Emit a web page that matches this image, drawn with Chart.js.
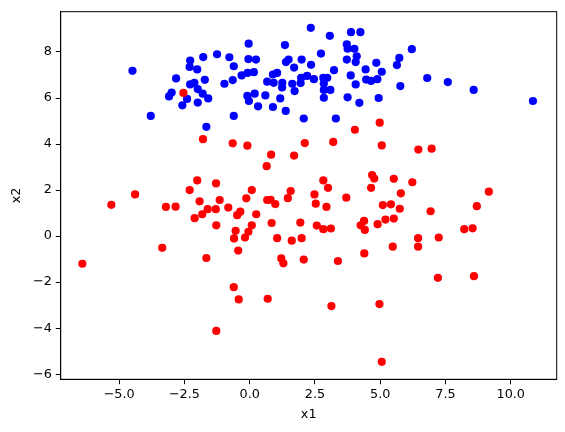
<!DOCTYPE html>
<html>
<head>
<meta charset="utf-8">
<script src="https://cdn.jsdelivr.net/npm/chart.js@4.4.1/dist/chart.umd.min.js"></script>
<style>
    html, body { margin: 0; padding: 0; background: #fff; }
    #wrap { width: 565px; height: 432px; }
</style>
</head>
<body>
<div id="wrap"><canvas id="scatterChart"></canvas></div>
<script>
// cluster 0 (blue)
const blueX = [-4.49, -3.79, -2.82, -2.28, -1.78, -1.25, -2.30, -2.01, -1.72, -0.97,
    -2.28, -2.12, -1.99, -1.80, -1.59, -2.99, -3.09, -2.40, -2.58, -1.99,
    -1.66, -0.78, -0.61, -0.65, -0.31, -0.04, -0.05, 0.24, -0.08, 0.16,
    -0.09, 0.19, -0.03, 0.32, 0.60, -0.61, 0.67, 0.92, 1.05, 0.89,
    1.35, 1.39, 1.49, 1.70, 1.99, 2.34, 2.35, 2.73, 3.07, 3.23,
    1.25, 1.24, 1.17, 0.89, 1.38, 1.63, 1.72, 1.95, 1.97, 2.20,
    2.46, 2.07, 2.82, 2.97, 2.84, 2.84, 3.09, 2.84, 3.30, 3.72,
    3.75, 3.88, 4.24, 4.01, 3.72, 4.10, 4.06, 3.87, 4.06, 4.44,
    4.85, 4.46, 4.65, 4.89, 5.06, 3.75, 4.20, 4.94, 5.73, 5.64,
    6.21, 5.77, 6.80, 7.59, 8.58, 10.85];
const blueY = [7.18, 5.22, 6.85, 7.63, 7.78, 7.90, 7.35, 7.24, 6.79, 6.62,
    6.59, 6.66, 6.39, 6.19, 5.98, 6.24, 6.07, 5.96, 5.68, 5.80,
    4.75, 7.77, 7.38, 6.78, 6.98, 8.36, 7.69, 7.67, 7.09, 7.12,
    6.09, 6.19, 5.87, 5.64, 6.11, 5.22, 6.71, 6.66, 7.09, 7.02,
    8.30, 7.56, 7.67, 7.32, 7.67, 9.05, 7.44, 7.93, 8.70, 7.21,
    6.66, 6.46, 5.98, 5.61, 5.44, 6.62, 6.30, 6.65, 6.88, 6.96,
    6.82, 5.11, 6.88, 6.88, 6.63, 6.35, 6.35, 6.01, 5.11, 8.33,
    8.14, 8.86, 8.86, 8.14, 7.67, 7.81, 7.56, 6.98, 6.59, 7.24,
    7.53, 6.80, 6.74, 6.82, 7.14, 6.03, 5.79, 6.00, 7.74, 7.43,
    8.12, 6.52, 6.87, 6.69, 6.35, 5.87];

// cluster 1 (red)
const redX = [-2.54, -1.79, -2.01, -1.29, -2.30, -4.39, -5.30, -3.21, -2.84, -1.92,
    -1.15, -0.82, -1.61, -1.30, -1.82, -2.11, -1.28, -3.35, 4.03, 4.98,
    -0.65, -0.09, 2.11, 3.20, 5.06, 0.82, 1.70, 0.65, 2.82, 3.00,
    4.69, 4.77, 4.65, 0.08, 1.57, -0.13, 0.67, 0.80, 0.98, 1.46,
    2.48, 2.53, 2.94, 3.70, 5.10, -0.36, -0.48, 0.25, 0.08, -0.54,
    -0.05, -0.60, -0.18, 0.84, 1.94, 2.57, 2.82, 3.11, 1.05, 1.61,
    1.99, -0.44, 4.25, 4.38, 4.41, 4.90, 4.39, 6.46, 6.97, 5.52,
    6.23, 5.79, 9.16, 5.41, 5.75, 6.93, 8.70, 5.20, 5.52, 8.22,
    8.54, 6.45, 7.24, 5.48, 6.45, -6.41, -1.66, -1.28, 1.21, 1.29,
    2.07, 3.38, -0.61, -0.42, 0.69, 3.13, 4.97, 5.06, 7.21, 8.59];
const redY = [6.22, 4.21, 2.42, 2.29, 2.00, 1.81, 1.36, 1.27, 1.28, 1.51,
    1.57, 1.24, 1.17, 1.17, 0.95, 0.78, 0.47, -0.51, 4.62, 4.93,
    4.03, 3.93, 4.04, 4.09, 3.94, 3.54, 3.50, 3.04, 2.42, 2.10,
    2.65, 2.50, 2.10, 2.00, 1.96, 1.64, 1.57, 1.58, 1.39, 1.65,
    1.81, 1.41, 1.27, 1.67, 1.35, 1.06, 0.91, 0.95, 0.47, 0.23,
    0.19, -0.10, -0.06, 0.57, 0.59, 0.46, 0.30, 0.33, -0.09, -0.20,
    -0.09, -0.63, 0.47, 0.66, 0.27, 0.52, -0.75, 3.76, 3.80, 2.49,
    2.34, 1.86, 1.93, 1.38, 1.19, 1.08, 1.30, 0.72, 0.76, 0.30,
    0.34, -0.09, -0.06, -0.46, -0.46, -1.20, -0.95, -4.12, -0.97, -1.18,
    -1.02, -1.08, -2.22, -2.75, -2.72, -3.04, -2.95, -5.46, -1.81, -1.74];

const xTicks = [-5, -2.5, 0, 2.5, 5, 7.5, 10];
const yTicks = [-6, -4, -2, 0, 2, 4, 6, 8];

function toPoints(xs, ys) {
    return xs.map((x, i) => ({ x: x, y: ys[i] }));
}

function minusSign(v, digits) {
    const s = Math.abs(v).toFixed(digits);
    return v < 0 ? "\u2212" + s : s;
}

// black box round the plot area, like matplotlib spines
const frame = {
    id: "frame",
    afterDraw(chart) {
        const a = chart.chartArea;
        const ctx = chart.ctx;
        ctx.save();
        ctx.strokeStyle = "#000";
        ctx.lineWidth = 1;
        ctx.strokeRect(a.left, a.top, a.right - a.left, a.bottom - a.top);
        ctx.restore();
    }
};

const tickFont = { family: "DejaVu Sans", size: 12.8 };

new Chart(document.getElementById("scatterChart"), {
    type: "scatter",
    data: {
        datasets: [
            {
                label: "0",
                data: toPoints(blueX, blueY),
                backgroundColor: "#0000ff",
                borderWidth: 0,
                pointRadius: 4.1,
                order: 2
            },
            {
                label: "1",
                data: toPoints(redX, redY),
                backgroundColor: "#ff0000",
                borderWidth: 0,
                pointRadius: 4.1,
                order: 1
            }
        ]
    },
    options: {
        responsive: true,
        maintainAspectRatio: false,
        animation: false,
        layout: { padding: { left: 0, right: 8.3, top: 9.5, bottom: 0 } },
        plugins: {
            legend: { display: false },
            tooltip: { enabled: false }
        },
        scales: {
            x: {
                type: "linear",
                min: -7.24,
                max: 11.76,
                afterBuildTicks: scale => { scale.ticks = xTicks.map(v => ({ value: v })); },
                afterFit: scale => { scale.height = 52.7; },
                grid: { drawOnChartArea: false, drawTicks: true, tickLength: 4.9, color: "#000" },
                border: { display: true, color: "#000", width: 1 },
                ticks: {
                    color: "#000",
                    font: tickFont,
                    padding: 3,
                    maxRotation: 0,
                    callback: v => minusSign(v, 1)
                },
                title: {
                    display: true,
                    text: "x1",
                    color: "#000",
                    font: tickFont,
                    padding: { top: 0, bottom: 10 }
                }
            },
            y: {
                type: "linear",
                min: -6.22,
                max: 9.75,
                afterBuildTicks: scale => { scale.ticks = yTicks.map(v => ({ value: v })); },
                afterFit: scale => { scale.width = 60.7; },
                grid: { drawOnChartArea: false, drawTicks: true, tickLength: 4.9, color: "#000" },
                border: { display: true, color: "#000", width: 1 },
                ticks: {
                    color: "#000",
                    font: tickFont,
                    padding: 4,
                    callback: v => minusSign(v, 0)
                },
                title: {
                    display: true,
                    text: "x2",
                    color: "#000",
                    font: tickFont,
                    padding: { top: 9, bottom: 0 }
                }
            }
        }
    },
    plugins: [frame]
});
</script>
</body>
</html>
